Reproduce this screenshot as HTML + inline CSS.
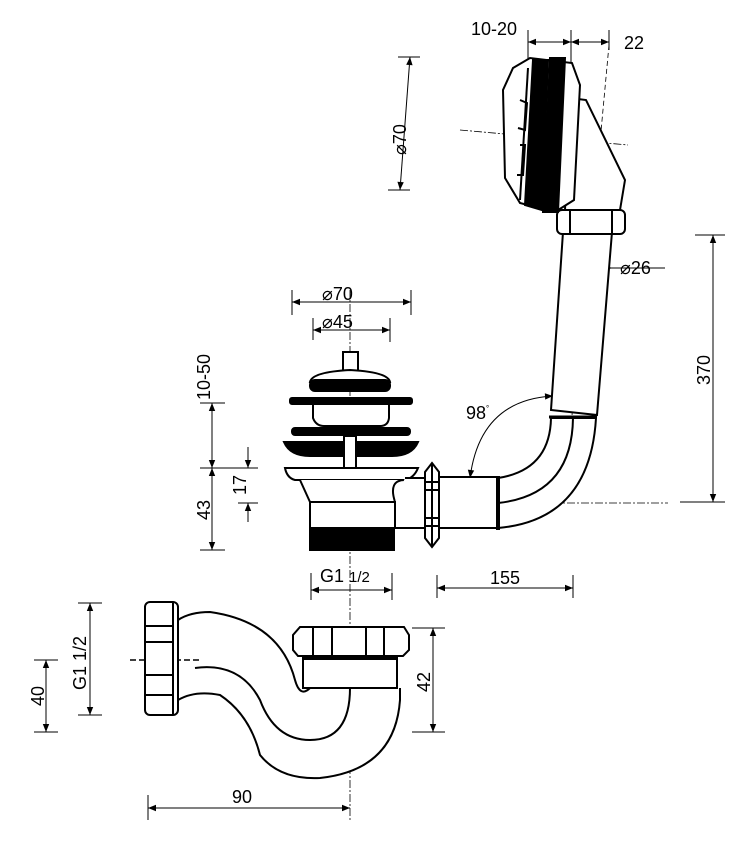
<!DOCTYPE html>
<html><head><meta charset="utf-8"><style>
html,body{margin:0;padding:0;background:#fff}
svg{display:block}
text{font-family:"Liberation Sans",Arial,sans-serif;fill:#000}
</style></head><body>
<svg width="748" height="842" viewBox="0 0 748 842" xmlns="http://www.w3.org/2000/svg">
<defs>
<marker id="a" viewBox="0 0 10 10" refX="10" refY="5" markerWidth="10" markerHeight="8" orient="auto-start-reverse" markerUnits="userSpaceOnUse">
<path d="M0,1 L10,5 L0,9 z" fill="#000"/></marker>
</defs>
<g stroke="#000" fill="none" stroke-width="1">
<line x1="350" y1="290" x2="350" y2="822" stroke-dasharray="8,2,2,2" stroke-width="0.8"/>
<line x1="385" y1="503" x2="668" y2="503" stroke-dasharray="8,2,2,2" stroke-width="0.8"/>
<line x1="460" y1="130" x2="628" y2="145" stroke-dasharray="8,2,2,2" stroke-width="0.8"/>
<line x1="609" y1="45" x2="590" y2="250" stroke-dasharray="5,3" stroke-width="0.8"/>
<line x1="575" y1="250" x2="572" y2="420" stroke-dasharray="5,3" stroke-width="0.8"/>

<line x1="292" y1="290" x2="292" y2="315"/><line x1="411" y1="290" x2="411" y2="315"/>
<line x1="292" y1="302" x2="411" y2="302" marker-start="url(#a)" marker-end="url(#a)"/>
<line x1="313" y1="318" x2="313" y2="340"/><line x1="390" y1="318" x2="390" y2="342"/>
<line x1="313" y1="330" x2="390" y2="330" marker-start="url(#a)" marker-end="url(#a)"/>
<line x1="200" y1="403" x2="225" y2="403"/><line x1="200" y1="468" x2="258" y2="468"/><line x1="200" y1="550" x2="225" y2="550"/>
<line x1="212" y1="403" x2="212" y2="468" marker-start="url(#a)" marker-end="url(#a)"/>
<line x1="212" y1="468" x2="212" y2="550" marker-start="url(#a)" marker-end="url(#a)"/>
<line x1="238" y1="503" x2="258" y2="503"/>
<line x1="248" y1="447" x2="248" y2="468" marker-end="url(#a)"/>
<line x1="248" y1="522" x2="248" y2="503" marker-end="url(#a)"/>
<line x1="311" y1="573" x2="311" y2="600"/><line x1="392" y1="573" x2="392" y2="600"/>
<line x1="311" y1="590" x2="392" y2="590" marker-start="url(#a)" marker-end="url(#a)"/>
<line x1="437" y1="575" x2="437" y2="598"/><line x1="573" y1="575" x2="573" y2="598"/>
<line x1="437" y1="588" x2="573" y2="588" marker-start="url(#a)" marker-end="url(#a)"/>
<line x1="695" y1="235" x2="725" y2="235"/><line x1="680" y1="502" x2="725" y2="502"/>
<line x1="713" y1="235" x2="713" y2="502" marker-start="url(#a)" marker-end="url(#a)"/>
<line x1="565" y1="268" x2="612" y2="268" marker-start="url(#a)" marker-end="url(#a)"/>
<line x1="612" y1="268" x2="665" y2="268"/>
<line x1="528" y1="30" x2="528" y2="62"/><line x1="571" y1="30" x2="571" y2="62"/><line x1="609" y1="30" x2="609" y2="50"/>
<line x1="528" y1="42" x2="571" y2="42" marker-start="url(#a)" marker-end="url(#a)"/>
<line x1="571" y1="42" x2="609" y2="42" marker-start="url(#a)" marker-end="url(#a)"/>
<line x1="398" y1="57" x2="420" y2="57"/><line x1="388" y1="190" x2="410" y2="190"/>
<line x1="410" y1="57" x2="400" y2="190" marker-start="url(#a)" marker-end="url(#a)"/>
<path d="M553,396 Q480,400 470,478" marker-start="url(#a)" marker-end="url(#a)"/>
<line x1="78" y1="603" x2="102" y2="603"/><line x1="78" y1="715" x2="102" y2="715"/>
<line x1="90" y1="603" x2="90" y2="715" marker-start="url(#a)" marker-end="url(#a)"/>
<line x1="34" y1="660" x2="58" y2="660"/><line x1="34" y1="732" x2="58" y2="732"/>
<line x1="46" y1="660" x2="46" y2="732" marker-start="url(#a)" marker-end="url(#a)"/>
<line x1="412" y1="628" x2="445" y2="628"/><line x1="412" y1="732" x2="445" y2="732"/>
<line x1="433" y1="628" x2="433" y2="732" marker-start="url(#a)" marker-end="url(#a)"/>
<line x1="148" y1="795" x2="148" y2="820"/>
<line x1="148" y1="808" x2="350" y2="808" marker-start="url(#a)" marker-end="url(#a)"/>
<line x1="130" y1="660" x2="200" y2="660" stroke-dasharray="6,3" stroke-width="1.5"/>
</g>

<g stroke="#000" stroke-width="2" fill="#fff">
<rect x="343" y="352" width="15" height="20"/>
<path d="M310,382 Q312,372 350,370 Q388,372 390,382 Z"/>
<rect x="310" y="380" width="80" height="11" rx="5" fill="#000"/>
<rect x="290" y="398" width="122" height="6" rx="2" fill="#000"/>
<path d="M313,405 L313,418 Q316,426 324,426 L380,426 Q388,426 389,418 L389,405"/>
<rect x="292" y="428" width="118" height="7" rx="3" fill="#000"/>
<path d="M284,442 Q290,456 310,456 L392,456 Q412,456 418,442 Z" fill="#000"/>
<rect x="344" y="436" width="12" height="32"/>
<path d="M285,468 L418,468 Q414,478 405,480 L295,480 Q287,478 285,468 Z"/>
<path d="M300,480 L310,502 L395,502 Q388,480 405,480"/>
<path d="M395,502 Q380,515 392,528 L425,528 L425,478 L405,478"/>
<rect x="310" y="502" width="85" height="26"/>
<rect x="310" y="528" width="84" height="22" fill="#000"/>
<path d="M551,418 Q550,470 498,478 L498,528 Q590,520 596,418 Z"/>
<path d="M573,418 Q572,495 498,503" fill="none"/>
<line x1="549" y1="417" x2="597" y2="417" stroke-width="3"/>
<rect x="438" y="477" width="60" height="51"/>
<line x1="498" y1="476" x2="498" y2="530" stroke-width="4"/>
<path d="M425,472 L432,463 L439,472 L439,538 L432,547 L425,538 Z"/>
<line x1="432" y1="463" x2="432" y2="547"/>
<line x1="425" y1="482" x2="439" y2="482"/><line x1="425" y1="490" x2="439" y2="490"/>
<line x1="425" y1="518" x2="439" y2="518"/><line x1="425" y1="526" x2="439" y2="526"/>
<path d="M563,232 L551,410 L597,415 L612,232"/>
<rect x="557" y="210" width="68" height="24" rx="5"/>
<line x1="570" y1="210" x2="570" y2="234"/><line x1="612" y1="210" x2="612" y2="234"/>
<path d="M570,98 L586,100 L625,180 L620,210 L565,210 Z"/>
<path d="M513,68 L530,58 L572,63 L580,85 L574,200 L555,212 L520,203 L505,178 L503,90 Z"/>
<path d="M528,68 L520,200" fill="none"/>
<path d="M533,60 L548,60 L542,210 L525,205 Z" fill="#000"/>
<path d="M550,58 L565,58 L558,212 L543,212 Z" fill="#000"/>
<path d="M520,100 L527,103 L525,130 L518,128" fill="none"/>
<path d="M520,145 L525,145 L523,175 L517,175" fill="none"/>
<path d="M178,620 Q190,612 210,612 Q280,622 295,680 Q300,698 310,688 L305,660"/>
<path d="M178,700 Q195,690 220,695 Q250,715 260,755 Q280,780 320,778 Q395,770 400,700 L400,688"/>
<path d="M195,668 Q240,662 260,700 Q275,740 310,740 Q350,740 350,688" fill="none"/>
<rect x="145" y="602" width="33" height="113" rx="5"/>
<line x1="173" y1="602" x2="173" y2="715"/>
<line x1="146" y1="626" x2="172" y2="626"/><line x1="146" y1="642" x2="172" y2="642"/>
<line x1="146" y1="675" x2="172" y2="675"/><line x1="146" y1="695" x2="172" y2="695"/>
<rect x="303" y="657" width="94" height="31"/>
<rect x="303" y="653" width="94" height="6" fill="#000"/>
<path d="M300,627 L404,627 L409,635 L409,650 L403,656 L298,656 L293,650 L293,635 Z"/>
<line x1="313" y1="627" x2="313" y2="656"/><line x1="332" y1="627" x2="332" y2="656"/>
<line x1="366" y1="627" x2="366" y2="656"/><line x1="384" y1="627" x2="384" y2="656"/>
</g>

<g font-size="18">
<text x="322" y="300">⌀70</text>
<text x="322" y="328">⌀45</text>
<text transform="translate(210,400) rotate(-90)">10-50</text>
<text transform="translate(210,520) rotate(-90)">43</text>
<text transform="translate(246,495) rotate(-90)">17</text>
<text x="320" y="582">G1 <tspan font-size="15">1/2</tspan></text>
<text x="490" y="584">155</text>
<text transform="translate(710,385) rotate(-90)">370</text>
<text x="620" y="274">⌀26</text>
<text x="471" y="35">10-20</text>
<text x="624" y="49">22</text>
<text transform="translate(406,155) rotate(-90)">⌀70</text>
<text x="466" y="419">98<tspan font-size="8" dy="-8">°</tspan></text>
<text transform="translate(86,690) rotate(-90)">G1 1/2</text>
<text transform="translate(44,706) rotate(-90)">40</text>
<text transform="translate(430,692) rotate(-90)">42</text>
<text x="232" y="803">90</text>
</g>
</svg>
</body></html>
